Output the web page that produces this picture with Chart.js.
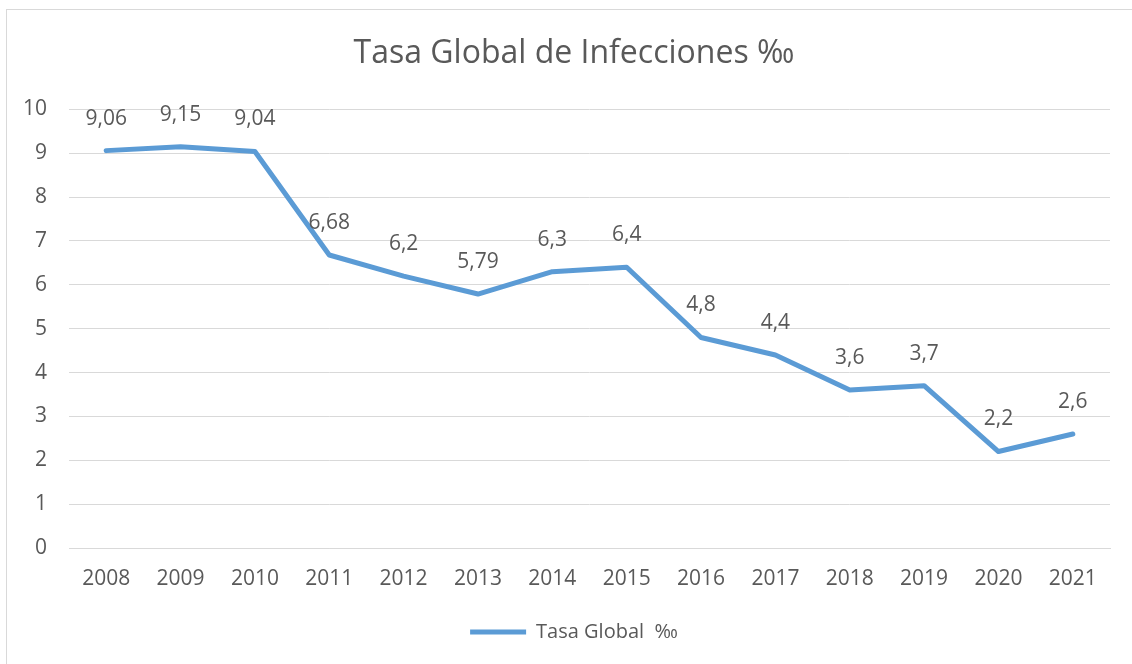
<!DOCTYPE html>
<html>
<head>
<meta charset="utf-8">
<script src="https://cdn.jsdelivr.net/npm/chart.js@4/dist/chart.umd.min.js"></script>
<style>
  html, body { margin: 0; padding: 0; background: #ffffff; overflow: hidden; }
  #wrap { position: absolute; left: 0; top: 0; width: 1132px; height: 664px; }
</style>
</head>
<body>
<div id="wrap"><canvas id="c" width="1132" height="664"></canvas></div>
<script>
const years = ["2008","2009","2010","2011","2012","2013","2014","2015","2016","2017","2018","2019","2020","2021"];
const tasaGlobal = [9.06, 9.15, 9.04, 6.68, 6.2, 5.79, 6.3, 6.4, 4.8, 4.4, 3.6, 3.7, 2.2, 2.6];
const yTicks = [0,1,2,3,4,5,6,7,8,9,10];
const chartTitle = "Tasa Global de Infecciones ‰";
const seriesName = "Tasa Global  ‰";

const FONT = "'Open Sans', 'Noto Sans', sans-serif";
const TEXT = "#595959";

const frame = {
  id: 'frame',
  beforeDraw(chart) {
    const ctx = chart.ctx;
    ctx.save();
    ctx.strokeStyle = '#d9d9d9';
    ctx.lineWidth = 1;
    ctx.strokeRect(6.5, 9.5, 1200, 700);
    ctx.restore();
  }
};

const dataLabels = {
  id: 'dataLabels',
  afterDatasetsDraw(chart) {
    const ctx = chart.ctx;
    const meta = chart.getDatasetMeta(0);
    ctx.save();
    ctx.font = "21px " + FONT;
    ctx.fillStyle = TEXT;
    ctx.textAlign = 'center';
    ctx.textBaseline = 'middle';
    meta.data.forEach((pt, i) => {
      const v = chart.data.datasets[0].data[i];
      ctx.fillText(String(v).replace('.', ','), pt.x, pt.y - 32);
    });
    ctx.restore();
  }
};

new Chart(document.getElementById('c'), {
  type: 'line',
  data: {
    labels: years,
    datasets: [{
      label: seriesName,
      data: tasaGlobal,
      borderColor: '#5b9bd5',
      backgroundColor: '#5b9bd5',
      borderWidth: 5,
      pointRadius: 0,
      pointHoverRadius: 0,
      tension: 0,
      borderCapStyle: 'round',
      borderJoinStyle: 'round'
    }]
  },
  options: {
    responsive: false,
    animation: false,
    devicePixelRatio: 1,
    layout: { padding: { left: 16, right: 0, top: 0, bottom: 12 } },
    plugins: {
      title: {
        display: true,
        text: chartTitle,
        color: TEXT,
        font: { family: FONT, size: 32, weight: 'normal' },
        padding: { top: 35, bottom: 36 }
      },
      legend: {
        display: true,
        position: 'bottom',
        labels: {
          color: TEXT,
          font: { family: FONT, size: 20 },
          usePointStyle: true,
          pointStyle: 'line',
          pointStyleWidth: 56,
          boxWidth: 56,
          boxHeight: 20,
          padding: 10
        }
      },
      tooltip: { enabled: false }
    },
    scales: {
      x: {
        offset: true,
        grid: { display: false, drawTicks: false },
        border: { display: true, color: '#d9d9d9' },
        ticks: { color: TEXT, font: { family: FONT, size: 21 }, padding: 18, maxRotation: 0 },
        afterFit(s) { s.height = 64; }
      },
      y: {
        min: 0, max: 10,
        afterBuildTicks(s) { s.ticks = yTicks.map(v => ({ value: v })); },
        grid: { color: '#d9d9d9', drawTicks: false, lineWidth: 1 },
        border: { display: false },
        ticks: { color: TEXT, font: { family: FONT, size: 21 }, padding: 22 },
        afterFit(s) { s.width = 53; }
      },
      yRight: {
        type: 'linear',
        position: 'right',
        min: 0, max: 10,
        grid: { display: false, drawTicks: false },
        border: { display: false },
        ticks: { display: false },
        afterFit(s) { s.width = 22; }
      }
    }
  },
  plugins: [frame, dataLabels]
});
</script>
</body>
</html>
